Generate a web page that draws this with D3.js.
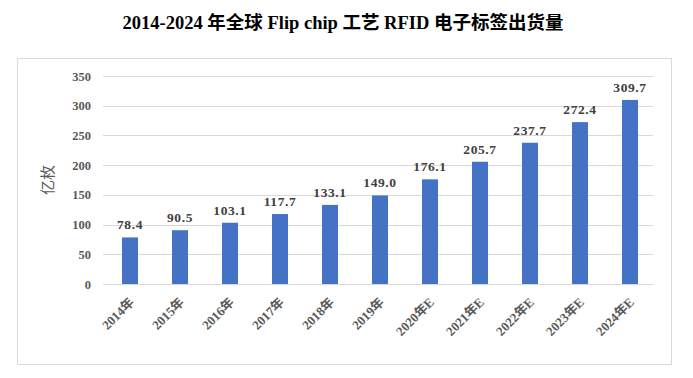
<!DOCTYPE html>
<html>
<head>
<meta charset="utf-8">
<script src="https://cdn.jsdelivr.net/npm/d3@7"></script>
<style>
  body { margin: 0; background: #fff; }
  text { font-family: "Liberation Serif", "Noto Sans CJK SC", serif; }
</style>
</head>
<body>
<div id="chart"></div>
<script>
let years = ['2014年', '2015年', '2016年', '2017年', '2018年', '2019年', '2020年E', '2021年E', '2022年E', '2023年E', '2024年E']
let shipments = [78.4, 90.5, 103.1, 117.7, 133.1, 149.0, 176.1, 205.7, 237.7, 272.4, 309.7]
let yTicks = [0, 50, 100, 150, 200, 250, 300, 350]

let width = 693, height = 378
let svg = d3.select('#chart').append('svg')
    .attr('width', width)
    .attr('height', height)

// title
svg.append('text')
    .attr('x', 343)
    .attr('y', 29)
    .attr('text-anchor', 'middle')
    .attr('font-size', 18.5)
    .attr('font-weight', 'bold')
    .attr('fill', '#000')
    .text('2014-2024 年全球 Flip chip 工艺 RFID 电子标签出货量')

// chart frame
svg.append('rect')
    .attr('x', 17.5).attr('y', 58.5)
    .attr('width', 654).attr('height', 306)
    .attr('fill', 'none')
    .attr('stroke', '#d9d9d9')

let x = d3.scaleBand().domain(years).range([105, 655]).paddingInner(0.68).paddingOuter(0.34)
let y = d3.scaleLinear().domain([0, 350]).range([284, 76])

// grid lines
svg.append('g')
    .selectAll('line')
    .data(yTicks)
    .enter()
    .append('line')
    .attr('x1', 103).attr('x2', 653)
    .attr('y1', d => Math.round(y(d)) + 0.5)
    .attr('y2', d => Math.round(y(d)) + 0.5)
    .attr('stroke', '#d9d9d9')

// y axis labels
let yAxis = svg.append('g')
    .attr('transform', 'translate(91,0)')
    .call(d3.axisLeft(y).tickValues(yTicks).tickSize(0).tickPadding(0))
yAxis.select('.domain').remove()
yAxis.selectAll('text')
    .attr('font-size', 12.5)
    .attr('font-weight', 'bold')
    .attr('fill', '#595959')
    .style('font-family', '"Liberation Serif", serif')

svg.append('text')
    .attr('transform', 'translate(53,180) rotate(-90)')
    .attr('text-anchor', 'middle')
    .attr('font-size', 15)
    .attr('fill', '#595959')
    .style('font-family', '"Noto Sans CJK SC", sans-serif')
    .text('亿枚')

// bars
svg.append('g')
    .selectAll('rect')
    .data(shipments)
    .enter()
    .append('rect')
    .attr('x', (d, i) => x(years[i]))
    .attr('y', d => y(d))
    .attr('width', x.bandwidth())
    .attr('height', d => y(0) - y(d))
    .attr('fill', '#4472c4')

// value labels
svg.append('g')
    .selectAll('text')
    .data(shipments)
    .enter()
    .append('text')
    .attr('x', (d, i) => x(years[i]) + x.bandwidth() / 2)
    .attr('y', d => y(d) - 8)
    .attr('text-anchor', 'middle')
    .attr('font-size', 13.5)
    .attr('font-weight', 'bold')
    .attr('letter-spacing', 0.6)
    .attr('fill', '#404040')
    .text(d => d.toFixed(1))

// x axis labels
let xAxis = svg.append('g')
    .attr('transform', 'translate(0,284)')
    .call(d3.axisBottom(x).tickSize(0).tickPadding(0))
xAxis.select('.domain').remove()
xAxis.selectAll('text')
    .attr('font-size', 13)
    .attr('font-weight', 'bold')
    .attr('fill', '#595959')
    .attr('text-anchor', 'end')
    .attr('dy', 0)
    .attr('transform', 'translate(5,19) rotate(-45)')
</script>
</body>
</html>
